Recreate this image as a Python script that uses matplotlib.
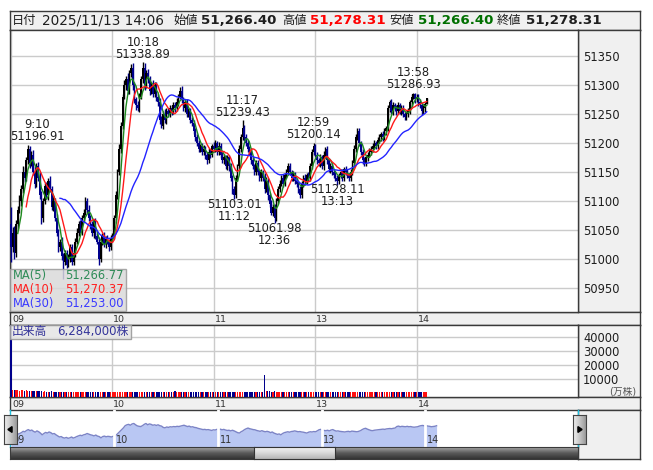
import numpy as np
import pandas as pd
import matplotlib
matplotlib.use('Agg')
import matplotlib.pyplot as plt
from matplotlib.patches import Rectangle, Polygon
from matplotlib.colors import LinearSegmentedColormap

plt.rcParams['font.family'] = ['DejaVu Sans', 'Noto Sans CJK JP']

# ---------------- data ----------------
header_date = '2025/11/13 14:06'
header_open = 51266.40
header_high = 51278.31
header_low = 51266.40
header_close = 51278.31

first_open = 51060
close = [
    51020, 51045, 51010, 51060, 51085, 51100, 51120, 51150, 51140, 51170,
    51190, 51165, 51180, 51150, 51130, 51160, 51140, 51110, 51070, 51100,
    51125, 51110, 51135, 51120, 51090, 51100, 51070, 51045, 51020, 51030,
    51005, 50995, 51010, 50990, 51000, 51020, 50995, 51010, 51030, 51045,
    51060, 51050, 51070, 51080, 51100, 51085, 51070, 51060, 51045, 51065,
    51040, 51030, 51000, 51030, 51040, 51025, 51035, 51030, 51020, 51035,
    51040, 51070, 51110, 51150, 51190, 51230, 51280, 51300, 51310, 51290,
    51320, 51330, 51300, 51275, 51265, 51260, 51280, 51310, 51330, 51300,
    51320, 51310, 51290, 51300, 51285, 51300, 51280, 51270, 51240, 51230,
    51250, 51240, 51255, 51250, 51260, 51255, 51265, 51260, 51270, 51280,
    51290, 51275, 51260, 51270, 51250, 51255, 51240, 51235, 51220, 51210,
    51200, 51190, 51195, 51185, 51190, 51180, 51170, 51185, 51180, 51195,
    51190, 51200, 51185, 51195, 51180, 51170, 51175, 51160, 51175, 51160,
    51140, 51120, 51110, 51140, 51160, 51190, 51210, 51225, 51210, 51200,
    51190, 51185, 51170, 51160, 51150, 51165, 51150, 51140, 51150, 51140,
    51120, 51135, 51110, 51095, 51080, 51090, 51070, 51100, 51120, 51130,
    51140, 51130, 51145, 51150, 51160, 51150, 51140, 51145, 51135, 51130,
    51120, 51110, 51130, 51140, 51135, 51145, 51140, 51160, 51185, 51195,
    51180, 51170, 51165, 51175, 51160, 51180, 51190, 51170, 51155, 51160,
    51150, 51145, 51140, 51135, 51145, 51150, 51140, 51155, 51150, 51145,
    51140, 51150, 51165, 51190, 51210, 51220, 51200, 51185, 51170, 51165,
    51175, 51180, 51185, 51190, 51195, 51200, 51195, 51205, 51210, 51215,
    51210, 51220, 51225, 51260, 51270, 51255, 51265, 51260, 51255, 51265,
    51255, 51260, 51250, 51245, 51250, 51255, 51270, 51280, 51285, 51275,
    51280, 51270, 51265, 51255, 51260, 51266.40, 51278.31,
]
wick_hi = [
    30, 10, 12, 8, 6, 10, 8, 10, 8, 6,
    7, 4, 6, 8, 10, 6, 8, 10, 8, 6,
    6, 8, 5, 8, 6, 8, 6, 8, 6, 5,
    8, 6, 5, 6, 8, 5, 6, 5, 6, 8,
    6, 8, 5, 7, 7, 6, 8, 5, 6, 4,
    6, 5, 8, 6, 5, 6, 4, 6, 5, 6,
    5, 6, 8, 6, 8, 6, 5, 8, 6, 10,
    6, 6, 8, 6, 5, 8, 6, 5, 9, 8,
    6, 8, 5, 6, 8, 5, 6, 5, 8, 6,
    5, 8, 5, 6, 5, 6, 5, 6, 8, 5,
    6, 8, 5, 4, 6, 5, 6, 4, 5, 6,
    5, 6, 4, 5, 6, 4, 5, 6, 5, 4,
    6, 5, 4, 6, 5, 4, 6, 5, 4, 5,
    6, 5, 6, 5, 4, 6, 5, 14, 6, 5,
    5, 4, 6, 5, 4, 6, 5, 4, 5, 4,
    8, 6, 5, 4, 6, 5, 4, 6, 5, 6,
    5, 6, 4, 5, 6, 5, 4, 6, 5, 4,
    5, 6, 4, 5, 6, 4, 5, 6, 5, 5,
    3, 5, 4, 6, 5, 6, 3, 5, 4, 6,
    5, 4, 6, 5, 4, 6, 5, 4, 6, 5,
    4, 6, 5, 6, 5, 5, 6, 4, 5, 6,
    4, 5, 6, 4, 5, 6, 4, 5, 6, 4,
    5, 6, 5, 6, 4, 6, 5, 4, 6, 5,
    4, 6, 5, 4, 6, 5, 4, 5, 2, 1,
    5, 4, 5, 4, 5, 4, 0,
]
wick_lo = [
    25, 8, 10, 6, 8, 5, 8, 6, 8, 6,
    6, 8, 5, 6, 8, 6, 5, 6, 10, 6,
    5, 6, 8, 5, 6, 8, 5, 6, 8, 6,
    6, 29, 5, 6, 4, 5, 6, 5, 6, 5,
    6, 5, 8, 6, 5, 6, 5, 8, 6, 8,
    6, 5, 10, 5, 6, 5, 6, 5, 6, 5,
    6, 5, 8, 6, 5, 8, 6, 5, 8, 6,
    5, 6, 8, 6, 8, 5, 6, 5, 6, 8,
    5, 6, 8, 5, 6, 5, 8, 6, 8, 5,
    6, 5, 8, 6, 5, 6, 5, 6, 5, 6,
    5, 6, 5, 6, 5, 6, 5, 6, 5, 6,
    5, 6, 5, 6, 5, 8, 6, 5, 6, 5,
    6, 5, 6, 5, 6, 5, 6, 5, 6, 8,
    6, 8, 7, 5, 6, 5, 6, 5, 6, 5,
    6, 5, 6, 5, 6, 5, 6, 5, 6, 5,
    6, 5, 8, 6, 5, 6, 8, 5, 6, 5,
    5, 6, 5, 6, 5, 6, 5, 6, 5, 6,
    6, 4, 5, 6, 5, 6, 5, 6, 5, 6,
    5, 6, 5, 6, 5, 6, 5, 6, 5, 6,
    6, 5, 6, 7, 5, 6, 5, 6, 5, 6,
    6, 5, 6, 5, 6, 5, 6, 5, 6, 5,
    5, 6, 5, 6, 5, 6, 5, 6, 5, 6,
    6, 5, 6, 5, 6, 5, 6, 5, 6, 5,
    5, 6, 5, 6, 5, 6, 5, 6, 5, 6,
    5, 6, 5, 6, 5, 6, 0,
]
volume = [
    60000, 2400, 2200, 2500, 2100, 1900, 2300, 2000, 1700, 2100,
    1900, 1600, 1700, 1500, 1600, 1400, 1300, 1500, 1400, 1200,
    1300, 1100, 1200, 1000, 1300, 1100, 1000, 1200, 900, 1100,
    1000, 1200, 900, 1000, 1100, 800, 1000, 900, 1100, 800,
    900, 1000, 800, 900, 1100, 800, 900, 1000, 800, 700,
    900, 800, 1000, 800, 700, 900, 800, 700, 800, 900,
    1000, 1100, 1000, 900, 1100, 1000, 900, 1000, 800, 900,
    1000, 900, 800, 1000, 900, 800, 900, 1000, 1100, 900,
    800, 900, 800, 700, 900, 800, 700, 800, 900, 800,
    700, 800, 700, 900, 800, 700, 1000, 1800, 900, 800,
    1000, 900, 800, 1200, 900, 1000, 800, 900, 700, 800,
    900, 700, 800, 700, 900, 800, 700, 800, 700, 800,
    700, 800, 700, 600, 800, 700, 600, 700, 800, 600,
    700, 800, 900, 700, 800, 700, 600, 900, 700, 600,
    700, 600, 700, 600, 700, 600, 700, 600, 700, 800,
    13000, 1900, 1800, 1500, 1200, 1100, 1300, 1000, 900, 1000,
    900, 800, 900, 800, 700, 800, 700, 800, 700, 600,
    800, 700, 800, 700, 600, 700, 800, 700, 900, 800,
    1000, 1200, 1100, 900, 800, 900, 800, 700, 800, 700,
    800, 700, 600, 800, 700, 600, 700, 800, 600, 700,
    800, 700, 800, 900, 800, 900, 800, 700, 800, 700,
    600, 700, 800, 700, 600, 700, 800, 700, 600, 700,
    800, 700, 800, 900, 800, 700, 800, 700, 600, 700,
    800, 700, 600, 700, 800, 700, 800, 700, 800, 700,
    600, 700, 800, 700, 600, 700, 800,
]
volume_label = '出来高'
volume_total = '6,284,000株'
volume_unit = '(万株)'

ma_periods = [5, 10, 30]
ma_names = ['MA(5)', 'MA(10)', 'MA(30)']
ma_legend_values = [51266.77, 51270.37, 51253.00]

price_ticks = [50950, 51000, 51050, 51100, 51150, 51200, 51250, 51300, 51350]
volume_ticks = [10000, 20000, 30000, 40000]
hour_labels = ['09', '10', '11', '13', '14']
hour_times = ['09:00', '10:00', '11:00', '13:00', '14:00']

high_labels = [('9:10', 51196.91), ('10:18', 51338.89), ('11:17', 51239.43),
               ('12:59', 51200.14), ('13:58', 51286.93)]
low_labels = [('11:12', 51103.01), ('12:36', 51061.98), ('13:13', 51128.11)]


def sess_min(hhmm):
    h, m = hhmm.split(':')
    t = int(h) * 60 + int(m) - 540
    if t >= 210:
        t -= 60
    return t


# ---------------- layout helpers ----------------
W, H = 653, 470
fig = plt.figure(figsize=(W / 100, H / 100), dpi=100)
fig.patch.set_facecolor('white')


def rect(x0, y0, x1, y1):
    return [x0 / W, 1 - y1 / H, (x1 - x0) / W, (y1 - y0) / H]


EDGE = '#3a3a3a'
PANEL = '#f0f0f0'
GRID = '#cbcbcb'
TXT = '#1e1e1e'
X0, PPM = 11.0, 1.69          # main chart: pixel of 09:00, pixels per minute
NX0, NPPM = 11.0, 1.73        # navigator


def xlim_for(a, b, x0=X0, ppm=PPM):
    return ((a - x0) / ppm, (b - x0) / ppm)


def panel(x0, y0, x1, y1, fc=PANEL, z=0):
    a = fig.add_axes(rect(x0, y0, x1, y1), zorder=z)
    a.set_facecolor(fc)
    a.set_xticks([])
    a.set_yticks([])
    for s in a.spines.values():
        s.set_color(EDGE)
        s.set_linewidth(1)
    return a


def gradient(ax, colors, horizontal=False):
    cmap = LinearSegmentedColormap.from_list('g', colors)
    g = np.linspace(0, 1, 64)
    img = g[None, :] if horizontal else g[:, None]
    ax.imshow(img, cmap=cmap, aspect='auto', extent=(0, 1, 0, 1), origin='upper')
    ax.set_xlim(0, 1)
    ax.set_ylim(0, 1)


c = np.array(close, dtype=float)
n = len(c)
x = np.arange(n)
o = np.r_[first_open, c[:-1]]
hi = np.maximum(o, c) + np.array(wick_hi)
lo = np.minimum(o, c) - np.array(wick_lo)
up = c >= o
candle_col = np.where(up, '#000000', '#00008c')
vol_col = np.where(up, '#ff1010', '#00008c')
hour_pos = [sess_min(t) for t in hour_times]

# ---------------- header ----------------
hdr = panel(10, 11, 640, 30)
hy = 1 - 20.5 / H
pieces = [
    ('日付', 12, 'normal', TXT),
    (header_date, 42, 'normal', TXT),
    ('始値', 173, 'normal', TXT),
    (f'{header_open:,.2f}', 201, 'bold', TXT),
    ('高値', 282, 'normal', TXT),
    (f'{header_high:,.2f}', 310, 'bold', '#ff0000'),
    ('安値', 389, 'normal', TXT),
    (f'{header_low:,.2f}', 418, 'bold', '#007000'),
    ('終値', 497, 'normal', TXT),
    (f'{header_close:,.2f}', 526, 'bold', TXT),
]
for s, px, wt, col in pieces:
    if wt == 'bold':
        fs = 9.6
    elif s[0].isdigit():
        fs = 9.8
    else:
        fs = 8.8
    fig.text(px / W, hy, s, fontsize=fs, fontweight=wt, color=col,
             ha='left', va='center', zorder=10)

# ---------------- side panels / strips ----------------
panel(578, 30, 640, 312)
t1 = panel(10, 312, 640, 325)
panel(578, 325, 640, 397)
t2 = panel(10, 397, 640, 410)
panel(578, 410, 640, 459)

for t in (t1, t2):
    t.set_xlim(*xlim_for(10, 640))
    t.set_ylim(0, 1)
    for p, lab in zip(hour_pos, hour_labels):
        t.text(p + 0.6, 0.45, lab, fontsize=6.8, color='#333333',
               ha='left', va='center')

# ---------------- price panel ----------------
axp = fig.add_axes(rect(10, 30, 578, 312), zorder=2)
axp.set_xlim(*xlim_for(10, 578))
axp.set_ylim(50908.6, 51394.8)
axp.set_facecolor('white')
axp.set_xticks(hour_pos)
axp.set_yticks(price_ticks)
axp.set_yticklabels([str(t) for t in price_ticks])
axp.yaxis.tick_right()
axp.tick_params(axis='y', length=0, pad=3.8, labelsize=8.3, labelcolor=TXT)
axp.tick_params(axis='x', length=0, labelbottom=False)
axp.grid(True, color=GRID, lw=1)
axp.set_axisbelow(True)
for s in axp.spines.values():
    s.set_color(EDGE)
    s.set_linewidth(1)

axp.vlines(x, lo, hi, colors=candle_col, lw=1.0, zorder=3)
axp.bar(x, np.maximum(np.abs(c - o), 1.2), bottom=np.minimum(o, c),
        width=0.9, color=candle_col, lw=0, zorder=3)

ma_colors = ['#1f8a1f', '#ff1a1a', '#2424ff']
s_close = pd.Series(c)
for p, col in zip(ma_periods, ma_colors):
    axp.plot(x, s_close.rolling(p).mean(), color=col, lw=1.0, zorder=4)

# peak / trough labels
FS_A = 8.3
PT = 0.72
label_dx = [9.5, 0, 0, 0, 0]
for (t, v), dx in zip(high_labels, label_dx):
    m = sess_min(t)
    axp.annotate(f'{v:.2f}', xy=(m, v), xytext=(dx * PT, 8 * PT),
                 textcoords='offset points', ha='center', va='center',
                 fontsize=FS_A, color=TXT, zorder=5)
    axp.annotate(t, xy=(m, v), xytext=(dx * PT, 20 * PT),
                 textcoords='offset points', ha='center', va='center',
                 fontsize=FS_A, color=TXT, zorder=5)
for t, v in low_labels:
    m = sess_min(t)
    axp.annotate(f'{v:.2f}', xy=(m, v), xytext=(0, -5 * PT),
                 textcoords='offset points', ha='center', va='center',
                 fontsize=FS_A, color=TXT, zorder=5)
    axp.annotate(t, xy=(m, v), xytext=(0, -17 * PT),
                 textcoords='offset points', ha='center', va='center',
                 fontsize=FS_A, color=TXT, zorder=5)

# MA legend box (pixel layout inside the price panel)
pw, ph = 568.0, 282.0
axp.add_patch(Rectangle((0, (312 - 311) / ph), 116 / pw, 42 / ph,
                        transform=axp.transAxes, facecolor='#dadada',
                        alpha=0.85, edgecolor='#9a9a9a', lw=1, zorder=6))
leg_y = [276, 289, 303]
leg_txt_cols = ['#2e8b57', '#ff2020', '#3a3aff']
for name, val, yy, col in zip(ma_names, ma_legend_values, leg_y, leg_txt_cols):
    axp.text(2.5 / pw, (312 - yy) / ph, name, transform=axp.transAxes,
             fontsize=8.3, color=col, ha='left', va='center', zorder=7)
    axp.text(114 / pw, (312 - yy) / ph, f'{val:,.2f}', transform=axp.transAxes,
             fontsize=8.3, color=col, ha='right', va='center', zorder=7)

# ---------------- volume panel ----------------
axv = fig.add_axes(rect(10, 325, 578, 397), zorder=2)
axv.set_xlim(*xlim_for(10, 578))
VMIN, VMAX = -2643, 48786
axv.set_ylim(VMIN, VMAX)
axv.set_xticks(hour_pos)
axv.set_yticks(volume_ticks)
axv.set_yticklabels([str(t) for t in volume_ticks])
axv.yaxis.tick_right()
axv.tick_params(axis='y', length=0, pad=3.8, labelsize=8.3, labelcolor=TXT)
axv.tick_params(axis='x', length=0, labelbottom=False)
axv.grid(True, color=GRID, lw=1)
axv.set_axisbelow(True)
for s in axv.spines.values():
    s.set_color(EDGE)
    s.set_linewidth(1)
vol = np.array(volume, dtype=float)
axv.bar(x, vol - VMIN, bottom=VMIN, width=0.7, color=vol_col, lw=0, zorder=3)

vw, vh = 568.0, 72.0
axv.add_patch(Rectangle((0, (397 - 339) / vh), 121 / vw, 14 / vh,
                        transform=axv.transAxes, facecolor='#e6e6e6',
                        alpha=0.9, edgecolor='#9a9a9a', lw=1, zorder=6))
axv.text(1.5 / vw, (397 - 332) / vh, volume_label, transform=axv.transAxes,
         fontsize=8.5, color='#333399', ha='left', va='center', zorder=7)
axv.text(47 / vw, (397 - 332) / vh, volume_total, transform=axv.transAxes,
         fontsize=8.5, color='#333399', ha='left', va='center', zorder=7)
fig.text(636 / W, 1 - 391 / H, volume_unit, fontsize=7, color='#555555',
         ha='right', va='center', zorder=10)

# ---------------- navigator ----------------
axn = fig.add_axes(rect(10, 410, 578, 447), zorder=2)
axn.set_xlim(*xlim_for(10, 578, NX0, NPPM))
NMIN, NMAX = 50790, 51640
axn.set_ylim(NMIN, NMAX)
axn.axis('off')
axn.fill_between(x, c, NMIN, color='#b9c7f3', lw=0, zorder=2)
axn.plot(x, c, color='#7c84c6', lw=1.0, zorder=3)
for p in hour_pos[1:]:
    axn.axvline(p - 0.5, color='white', lw=2, zorder=4)
for p, lab in zip(hour_pos, hour_labels):
    axn.text(p + 0.6, 0.2, lab, transform=axn.get_xaxis_transform(),
             fontsize=7, color='#333333', ha='left', va='center', zorder=5)
for xx in (0.0, 1.0):
    axn.plot([xx, xx], [0, 1], transform=axn.transAxes, color='#20c0e0',
             lw=1, clip_on=False, zorder=1)

# scrollbar
sb = fig.add_axes(rect(10, 447, 578, 459), zorder=3)
gradient(sb, ['#a8a8a8', '#5a5a5a', '#333333'])
sb.set_xticks([]); sb.set_yticks([])
for s in sb.spines.values():
    s.set_color(EDGE)
th = fig.add_axes(rect(254, 447, 335, 459), zorder=4)
gradient(th, ['#f4f4f4', '#d8d8d8', '#b4b4b4'])
th.set_xticks([]); th.set_yticks([])
for s in th.spines.values():
    s.set_color('#333333')

# arrow buttons
for (bx0, bx1, tri) in [(4, 17, [(0.3, 0.5), (0.62, 0.6), (0.62, 0.4)]),
                        (573, 586, [(0.7, 0.5), (0.38, 0.6), (0.38, 0.4)])]:
    b = fig.add_axes(rect(bx0, 415, bx1, 444), zorder=6)
    gradient(b, ['#f2f2f2', '#c8c8c8', '#9a9a9a'], horizontal=True)
    b.add_patch(Polygon(tri, closed=True, color='black', transform=b.transAxes, zorder=3))
    b.set_xticks([]); b.set_yticks([])
    for s in b.spines.values():
        s.set_color('#444444')

fig.savefig('out.png', dpi=100, facecolor='white')
